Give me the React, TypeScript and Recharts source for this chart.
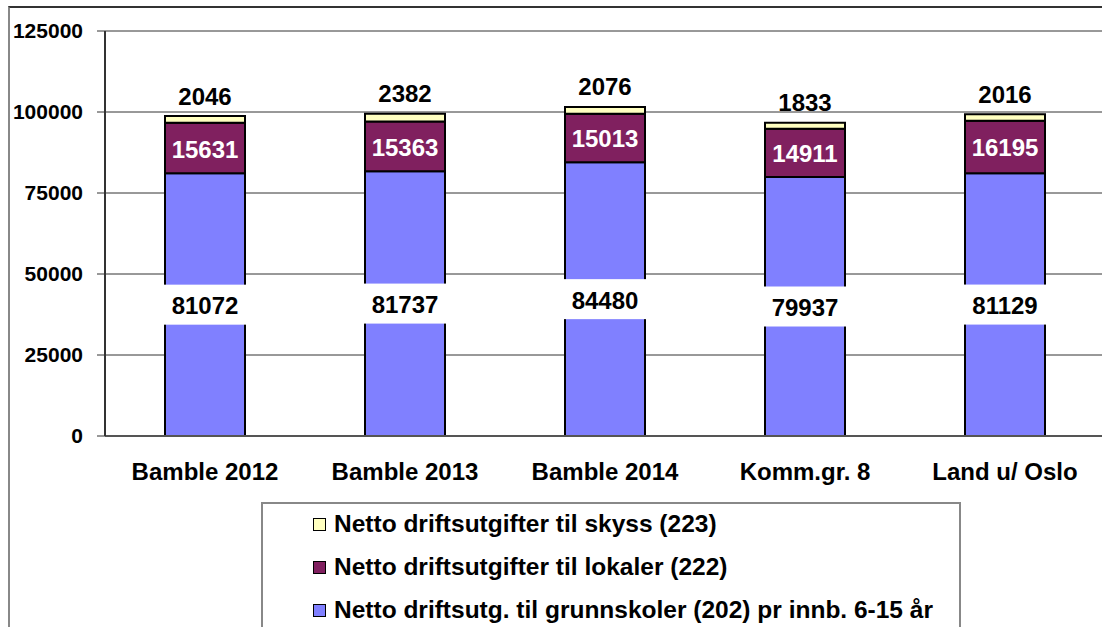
import React from 'react';
import { BarChart, Bar, XAxis, YAxis, CartesianGrid, LabelList } from 'recharts';

const categories = ['Bamble 2012', 'Bamble 2013', 'Bamble 2014', 'Komm.gr. 8', 'Land u/ Oslo'];
const grunnskoler = [81072, 81737, 84480, 79937, 81129];
const lokaler = [15631, 15363, 15013, 14911, 16195];
const skyss = [2046, 2382, 2076, 1833, 2016];
const yTicks = [0, 25000, 50000, 75000, 100000, 125000];

const seriesNames = [
  'Netto driftsutgifter til skyss (223)',
  'Netto driftsutgifter til lokaler (222)',
  'Netto driftsutg. til grunnskoler (202) pr innb. 6-15 år',
];

const BLUE = '#8080FF';
const PLUM = '#80205F';
const YELLOW = '#FFFFC0';
const FONT = 'Arial, "Liberation Sans", sans-serif';

const data = categories.map((name, i) => ({
  name,
  grunnskoler: grunnskoler[i],
  lokaler: lokaler[i],
  skyss: skyss[i],
}));

const BoxLabel = (props: any) => {
  const { x, y, width, height, value } = props;
  const cx = x + width / 2;
  const cy = y + height / 2;
  return (
    <g>
      <rect x={cx - 43} y={cy - 20} width={86} height={40} fill="#fff" />
      <text x={cx} y={cy + 1} textAnchor="middle" dominantBaseline="central" fontFamily={FONT} fontWeight="bold" fontSize={24} fill="#000">
        {value}
      </text>
    </g>
  );
};

const MidLabel = (props: any) => {
  const { x, y, width, height, value } = props;
  return (
    <text x={x + width / 2} y={y + height / 2 + 1} textAnchor="middle" dominantBaseline="central" fontFamily={FONT} fontWeight="bold" fontSize={24} fill="#fff">
      {value}
    </text>
  );
};

const TopLabel = (props: any) => {
  const { x, y, width, value } = props;
  return (
    <text x={x + width / 2} y={y - 20} textAnchor="middle" dominantBaseline="central" fontFamily={FONT} fontWeight="bold" fontSize={24} fill="#000">
      {value}
    </text>
  );
};

const legendColors = [YELLOW, PLUM, BLUE];

export default function App() {
  return (
    <div style={{ position: 'fixed', left: 0, top: 0, width: 1102, height: 627, overflow: 'hidden', background: '#fff' }}>
      <div style={{ position: 'absolute', left: 8, top: 6, width: 1200, height: 700, borderLeft: '2px solid #888', borderTop: '2px solid #333' }} />
      <BarChart
        width={1105}
        height={627}
        data={data}
        margin={{ top: 31, right: 0, left: 0, bottom: 151 }}
        barSize={80}
        style={{ position: 'absolute', left: 0, top: 0 }}
      >
        <CartesianGrid vertical={false} stroke="#333" strokeWidth={1} />
        <XAxis
          dataKey="name"
          height={40}
          tickLine={false}
          tickSize={0}
          tickMargin={27}
          axisLine={{ stroke: '#555', strokeWidth: 2 }}
          tick={{ fill: '#000', fontSize: 24, fontWeight: 'bold', fontFamily: FONT }}
          interval={0}
        />
        <YAxis
          width={105}
          domain={[0, 125000]}
          ticks={yTicks}
          interval={0}
          tickSize={8}
          tickMargin={14}
          axisLine={{ stroke: '#333', strokeWidth: 2 }}
          tickLine={{ stroke: '#333', strokeWidth: 1 }}
          tick={{ fill: '#000', fontSize: 21, fontWeight: 'bold', fontFamily: FONT }}
        />
        <Bar dataKey="grunnskoler" stackId="a" fill={BLUE} stroke="#000" strokeWidth={2} isAnimationActive={false}>
          <LabelList dataKey="grunnskoler" content={BoxLabel} />
        </Bar>
        <Bar dataKey="lokaler" stackId="a" fill={PLUM} stroke="#000" strokeWidth={2} isAnimationActive={false}>
          <LabelList dataKey="lokaler" content={MidLabel} />
        </Bar>
        <Bar dataKey="skyss" stackId="a" fill={YELLOW} stroke="#000" strokeWidth={2} isAnimationActive={false}>
          <LabelList dataKey="skyss" content={TopLabel} />
        </Bar>
      </BarChart>
      <div
        style={{
          position: 'absolute',
          left: 261,
          top: 502,
          width: 696,
          height: 200,
          border: '2px solid #888',
          background: '#fff',
          fontFamily: FONT,
          fontWeight: 'bold',
          fontSize: 24.5,
          color: '#000',
        }}
      >
        {seriesNames.map((n, i) => (
          <div key={n} style={{ position: 'absolute', left: 50, top: 6 + i * 43, height: 28, display: 'flex', alignItems: 'center', whiteSpace: 'nowrap' }}>
            <span style={{ display: 'inline-block', width: 11, height: 11, background: legendColors[i], border: '1.5px solid #000', marginRight: 8 }} />
            <span>{n}</span>
          </div>
        ))}
      </div>
    </div>
  );
}
